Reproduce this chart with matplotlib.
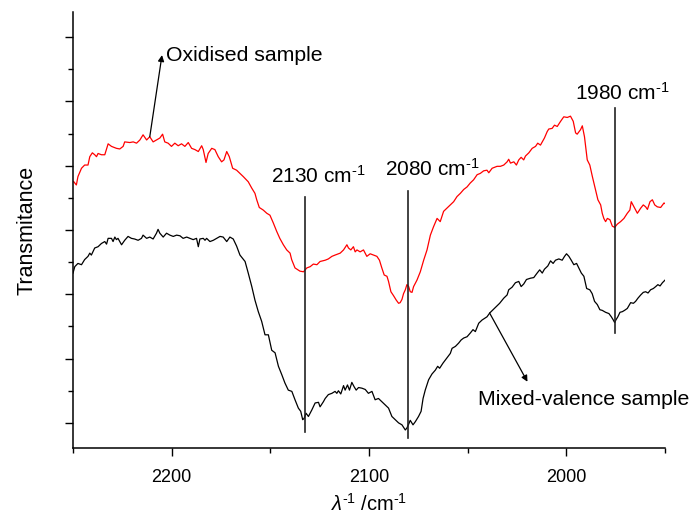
"""IR spectra: oxidised vs mixed-valence sample, with the CN stretch bands marked."""

import matplotlib

matplotlib.use("Agg")
import matplotlib.pyplot as plt
from matplotlib.ticker import MultipleLocator

plt.rcParams["font.family"] = ["Liberation Sans", "DejaVu Sans"]
plt.rcParams["mathtext.fontset"] = "custom"
plt.rcParams["mathtext.rm"] = "Liberation Sans"
plt.rcParams["mathtext.it"] = "Liberation Sans:italic"

# oxidised sample (red), wavenumber in cm-1 and transmittance (arb. units)
ox_wn = [2249.6, 2248.3, 2247.5, 2245.7, 2244.1, 2242.4, 2241.5, 2240.2, 2239.0, 2238.1,
         2237.3, 2235.6, 2233.9, 2232.2, 2230.5, 2228.0, 2226.3, 2224.6, 2223.8, 2221.2,
         2219.5, 2217.8, 2216.1, 2214.5, 2212.7, 2211.1, 2209.4, 2207.7, 2206.0, 2204.6,
         2203.5, 2201.8, 2200.1, 2198.4, 2196.7, 2195.0, 2193.3, 2191.6, 2189.9, 2188.2,
         2186.5, 2184.8, 2184.0, 2182.6, 2181.5, 2179.7, 2178.1, 2176.4, 2174.7, 2173.5,
         2172.1, 2170.8, 2169.1, 2167.1, 2165.4, 2163.7, 2161.2, 2159.4, 2157.8, 2156.9,
         2155.6, 2153.6, 2151.8, 2150.2, 2148.5, 2146.8, 2145.2, 2143.4, 2141.7, 2140.0,
         2139.2, 2137.5, 2135.0, 2133.2, 2131.5, 2129.8, 2128.2, 2126.4, 2124.8, 2122.2,
         2120.6, 2118.8, 2117.2, 2114.6, 2112.9, 2111.2, 2110.4, 2109.2, 2107.9, 2107.0,
         2106.1, 2104.5, 2102.8, 2101.1, 2099.4, 2097.7, 2096.0, 2094.7, 2093.5, 2092.3,
         2090.9, 2090.1, 2088.9, 2087.6, 2086.2, 2085.0, 2084.2, 2083.3, 2082.5, 2081.6,
         2080.8, 2079.9, 2079.1, 2078.2, 2077.4, 2075.7, 2074.0, 2072.3, 2070.6, 2068.9,
         2067.3, 2065.5, 2063.9, 2062.2, 2060.5, 2058.8, 2057.1, 2055.4, 2053.7, 2052.0,
         2050.3, 2048.7, 2047.0, 2045.2, 2043.6, 2041.9, 2040.2, 2039.3, 2037.6, 2035.1,
         2033.4, 2031.7, 2030.0, 2029.2, 2028.3, 2026.6, 2025.3, 2024.1, 2022.9, 2021.6,
         2020.7, 2019.0, 2017.3, 2015.6, 2014.5, 2013.1, 2012.2, 2011.1, 2009.7, 2008.9,
         2007.2, 2006.0, 2004.6, 2002.9, 2001.3, 1999.5, 1997.9, 1996.5, 1995.3, 1994.5,
         1992.8, 1991.9, 1990.8, 1989.4, 1988.1, 1986.8, 1985.2, 1984.0, 1982.6, 1981.8,
         1981.0, 1980.1, 1979.2, 1977.9, 1976.7, 1975.5, 1974.2, 1972.5, 1970.8, 1969.1,
         1967.8, 1967.1, 1965.7, 1964.0, 1962.3, 1961.0, 1959.8, 1958.9, 1957.6, 1956.4,
         1955.2, 1953.9, 1952.2, 1950.5, 1950.0]
ox_t = [3.75, 3.70, 3.83, 3.96, 4.01, 4.01, 4.14, 4.20, 4.17, 4.14,
        4.19, 4.17, 4.17, 4.34, 4.30, 4.27, 4.26, 4.30, 4.37, 4.36,
        4.37, 4.35, 4.40, 4.48, 4.40, 4.45, 4.37, 4.40, 4.43, 4.49,
        4.37, 4.35, 4.30, 4.35, 4.31, 4.34, 4.30, 4.36, 4.27, 4.25,
        4.22, 4.31, 4.25, 4.05, 4.19, 4.27, 4.25, 4.14, 4.06, 4.09,
        4.22, 4.14, 3.96, 3.93, 3.88, 3.83, 3.75, 3.65, 3.57, 3.47,
        3.35, 3.31, 3.26, 3.23, 3.11, 2.98, 2.87, 2.77, 2.69, 2.64,
        2.54, 2.41, 2.36, 2.35, 2.41, 2.43, 2.47, 2.46, 2.51, 2.53,
        2.55, 2.59, 2.61, 2.64, 2.69, 2.77, 2.72, 2.69, 2.74, 2.66,
        2.69, 2.66, 2.69, 2.59, 2.63, 2.61, 2.59, 2.53, 2.41, 2.30,
        2.28, 2.20, 2.04, 1.98, 1.91, 1.86, 1.87, 1.92, 2.01, 2.07,
        2.15, 2.12, 2.04, 2.03, 2.12, 2.22, 2.35, 2.53, 2.69, 2.92,
        3.05, 3.18, 3.13, 3.29, 3.34, 3.39, 3.44, 3.52, 3.57, 3.63,
        3.67, 3.73, 3.78, 3.86, 3.88, 3.92, 3.93, 3.89, 3.96, 3.99,
        3.99, 4.01, 4.06, 4.10, 4.04, 4.06, 4.01, 4.09, 4.13, 4.09,
        4.15, 4.20, 4.27, 4.30, 4.35, 4.32, 4.37, 4.43, 4.53, 4.57,
        4.58, 4.63, 4.61, 4.69, 4.76, 4.75, 4.77, 4.69, 4.51, 4.49,
        4.56, 4.62, 4.45, 4.09, 4.01, 3.83, 3.62, 3.47, 3.39, 3.26,
        3.18, 3.13, 3.18, 3.16, 3.06, 3.04, 3.09, 3.13, 3.18, 3.26,
        3.31, 3.44, 3.36, 3.26, 3.34, 3.39, 3.36, 3.32, 3.44, 3.47,
        3.39, 3.36, 3.35, 3.42, 3.41]

# mixed-valence sample (black)
mv_wn = [2250.0, 2249.1, 2247.5, 2245.7, 2244.1, 2242.4, 2241.5, 2240.7, 2239.0, 2237.3,
         2235.6, 2233.9, 2233.0, 2232.2, 2230.5, 2229.7, 2228.8, 2228.0, 2227.2, 2225.4,
         2223.8, 2222.1, 2220.4, 2218.8, 2217.0, 2215.3, 2214.5, 2212.7, 2211.1, 2209.4,
         2207.7, 2206.9, 2206.0, 2204.3, 2202.6, 2200.9, 2199.2, 2197.5, 2195.8, 2194.2,
         2192.4, 2190.8, 2189.1, 2187.4, 2186.5, 2185.7, 2184.0, 2183.1, 2182.3, 2180.6,
         2178.9, 2177.2, 2175.5, 2173.9, 2172.1, 2170.5, 2168.8, 2167.1, 2165.4, 2162.8,
         2161.2, 2159.4, 2157.8, 2156.1, 2154.4, 2152.7, 2151.0, 2149.3, 2147.6, 2145.9,
         2144.2, 2142.6, 2140.9, 2139.1, 2137.5, 2135.8, 2134.6, 2133.6, 2132.9, 2131.9,
         2130.7, 2129.0, 2127.3, 2125.6, 2124.8, 2123.1, 2122.2, 2120.6, 2118.8, 2117.2,
         2116.3, 2115.5, 2114.3, 2112.9, 2112.1, 2110.9, 2109.9, 2108.7, 2107.5, 2106.5,
         2105.3, 2103.6, 2101.9, 2100.3, 2098.5, 2096.9, 2095.2, 2093.5, 2091.8, 2090.1,
         2088.4, 2086.7, 2085.0, 2083.3, 2081.6, 2080.8, 2079.9, 2079.1, 2077.7, 2076.5,
         2074.9, 2073.6, 2072.6, 2071.5, 2069.8, 2068.1, 2066.4, 2065.2, 2064.2, 2062.5,
         2060.5, 2058.8, 2057.9, 2056.2, 2054.6, 2053.3, 2052.0, 2050.3, 2048.6, 2047.3,
         2046.1, 2044.4, 2042.7, 2040.2, 2038.8, 2036.8, 2035.1, 2033.8, 2031.7, 2030.0,
         2029.2, 2027.5, 2025.8, 2024.1, 2022.9, 2021.6, 2020.2, 2018.2, 2016.5, 2014.8,
         2013.5, 2012.2, 2011.1, 2009.4, 2008.0, 2006.7, 2005.5, 2003.8, 2002.1, 2000.9,
         1999.9, 1998.7, 1997.5, 1996.2, 1994.8, 1993.7, 1992.4, 1991.1, 1989.7, 1988.1,
         1986.9, 1985.7, 1984.3, 1983.0, 1981.8, 1980.1, 1978.4, 1977.2, 1976.2, 1975.5,
         1974.9, 1973.9, 1972.8, 1971.6, 1970.5, 1969.1, 1967.4, 1966.0, 1964.9, 1963.7,
         1962.3, 1961.0, 1959.8, 1958.6, 1957.3, 1955.9, 1954.7, 1953.6, 1952.5, 1951.3,
         1950.0]
mv_t = [2.33, 2.43, 2.48, 2.46, 2.54, 2.59, 2.64, 2.61, 2.72, 2.74,
        2.79, 2.82, 2.78, 2.87, 2.87, 2.82, 2.89, 2.85, 2.87, 2.77,
        2.84, 2.90, 2.87, 2.86, 2.84, 2.87, 2.92, 2.87, 2.89, 2.86,
        2.95, 3.01, 2.95, 2.89, 2.95, 2.92, 2.90, 2.92, 2.91, 2.87,
        2.89, 2.87, 2.85, 2.87, 2.74, 2.86, 2.87, 2.84, 2.87, 2.82,
        2.84, 2.87, 2.90, 2.89, 2.82, 2.89, 2.86, 2.75, 2.61, 2.51,
        2.33, 2.12, 1.91, 1.73, 1.58, 1.37, 1.37, 1.13, 1.09, 0.88,
        0.75, 0.62, 0.51, 0.49, 0.36, 0.23, 0.18, 0.05, 0.07, 0.15,
        0.10, 0.20, 0.31, 0.32, 0.25, 0.33, 0.38, 0.44, 0.46, 0.49,
        0.46, 0.50, 0.45, 0.58, 0.51, 0.59, 0.51, 0.63, 0.56, 0.51,
        0.55, 0.54, 0.52, 0.46, 0.49, 0.36, 0.38, 0.33, 0.28, 0.23,
        0.10, 0.05, 0.00, -0.03, -0.11, -0.08, -0.02, 0.04, -0.03, 0.02,
        0.10, 0.18, 0.38, 0.51, 0.67, 0.76, 0.82, 0.88, 0.85, 0.93,
        1.01, 1.08, 1.16, 1.19, 1.24, 1.29, 1.32, 1.34, 1.40, 1.45,
        1.42, 1.55, 1.60, 1.65, 1.71, 1.77, 1.82, 1.86, 1.94, 1.99,
        2.07, 2.11, 2.18, 2.20, 2.12, 2.16, 2.23, 2.25, 2.26, 2.33,
        2.38, 2.33, 2.39, 2.44, 2.52, 2.48, 2.53, 2.55, 2.53, 2.59,
        2.63, 2.59, 2.53, 2.46, 2.48, 2.41, 2.33, 2.28, 2.09, 2.07,
        2.01, 1.89, 1.84, 1.76, 1.75, 1.72, 1.70, 1.65, 1.60, 1.56,
        1.60, 1.65, 1.72, 1.73, 1.75, 1.78, 1.87, 1.86, 1.89, 1.94,
        1.99, 2.03, 2.04, 2.02, 2.07, 2.09, 2.12, 2.15, 2.13, 2.18,
        2.22]

# band markers: position, line extent, label
band_pos = [2132.5, 2080.2, 1975.5]
band_lo = [-0.14, -0.23, 1.40]
band_hi = [3.51, 3.61, 4.90]
band_labels = ["2130", "2080", "1980"]
label_x = [2125.6, 2067.7, 1971.7]
label_y = [3.73, 3.84, 5.02]

# short hyphen as superscript minus, like the original figure
INV = r"$^{\text{-1}}$"


def main() -> None:
    fig = plt.figure(figsize=(6.94, 5.17), dpi=100)
    ax = fig.add_axes([0.1052, 0.1335, 0.8530, 0.8433])

    ax.plot(ox_wn, ox_t, color="#ff0000", lw=0.9)
    ax.plot(mv_wn, mv_t, color="black", lw=0.9)

    for x, lo, hi, lab, tx, ty in zip(band_pos, band_lo, band_hi, band_labels, label_x, label_y):
        ax.plot([x, x], [lo, hi], color="#222222", lw=1.2)
        ax.text(tx, ty, lab + " cm" + INV, ha="center", va="baseline", fontsize=15)

    arrow = dict(arrowstyle="-|>", color="black", lw=0.9, mutation_scale=9, shrinkA=0, shrinkB=0)
    ax.annotate("", xy=(2204.9, 5.72), xytext=(2211.1, 4.45), arrowprops=arrow)
    ax.text(2202.9, 5.72, "Oxidised sample", ha="left", va="center", fontsize=15.3)
    ax.annotate("", xy=(2019.7, 0.64), xytext=(2038.9, 1.71), arrowprops=arrow)
    ax.text(2045.0, 0.37, "Mixed-valence sample", ha="left", va="center", fontsize=15.3)

    ax.set_xlim(2250, 1950)
    ax.set_ylim(-0.39, 6.39)
    ax.xaxis.set_major_locator(MultipleLocator(100))
    ax.xaxis.set_minor_locator(MultipleLocator(50))
    ax.yaxis.set_major_locator(MultipleLocator(1))
    ax.yaxis.set_minor_locator(MultipleLocator(0.5))
    ax.tick_params(which="major", length=6, width=1.0, labelsize=13, pad=9)
    ax.tick_params(which="minor", length=3.5, width=1.0)
    ax.tick_params(axis="y", labelleft=False)

    for side in ("top", "right"):
        ax.spines[side].set_visible(False)
    for side in ("left", "bottom"):
        ax.spines[side].set_linewidth(1.1)

    ax.set_xlabel(r"$\lambda$" + INV + " /cm" + INV, fontsize=14.5, labelpad=5)
    ax.set_ylabel("Transmitance", fontsize=15.5, labelpad=19)

    fig.savefig("out.png", dpi=100)


if __name__ == "__main__":
    main()
